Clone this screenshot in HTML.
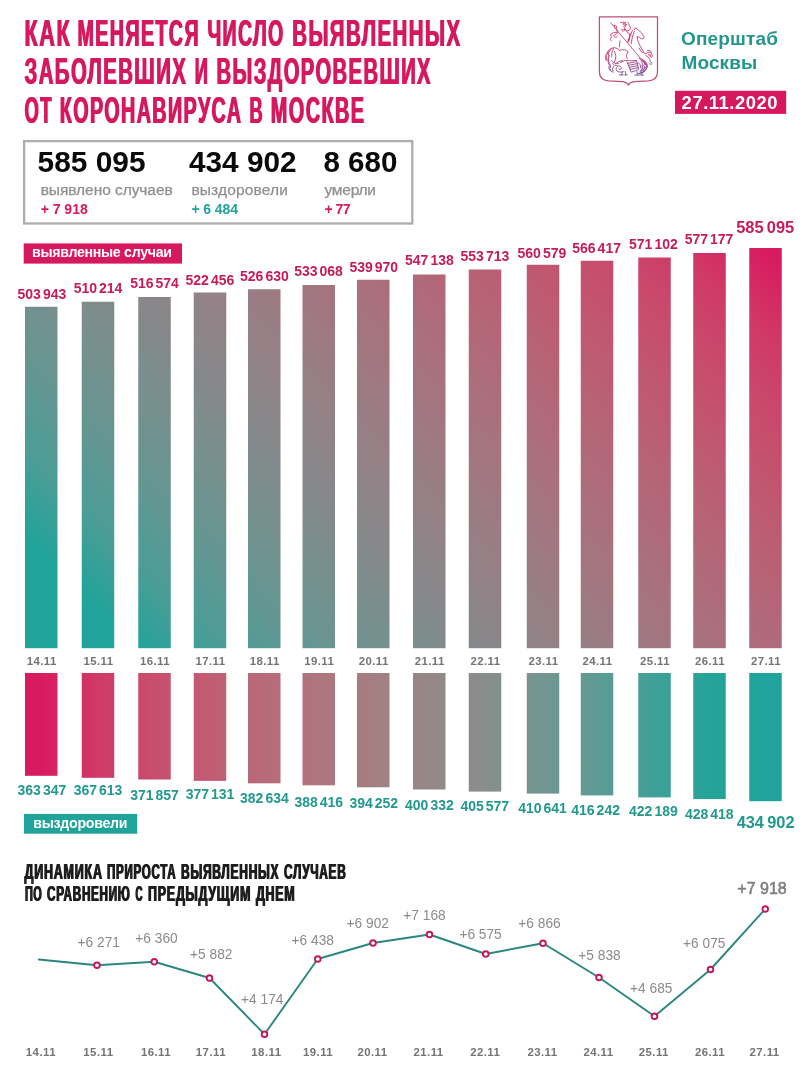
<!DOCTYPE html>
<html lang="ru"><head><meta charset="utf-8"><title>Оперштаб Москвы — 27.11.2020</title>
<style>
html,body{margin:0;padding:0;background:#fff;}
body{width:807px;height:1080px;overflow:hidden;font-family:"Liberation Sans",sans-serif;}
svg{display:block}
text{font-family:"Liberation Sans",sans-serif;}
.b{font-weight:bold}
.ttl{font-weight:bold;font-size:36.7px;fill:#D6185E;letter-spacing:2.6px}
.sub{font-weight:bold;font-size:21.8px;fill:#1d1d1d;letter-spacing:1.3px}
.tl{font-weight:bold;font-size:14px;fill:#C41C5A;text-anchor:middle}
.bl{font-weight:bold;font-size:14px;fill:#22988E;text-anchor:middle}
.dt{font-weight:bold;font-size:11.4px;fill:#747474;text-anchor:middle;letter-spacing:.45px}
.inc{font-size:14.3px;fill:#8a8a8a;text-anchor:middle}
.cap{font-size:15.5px;fill:#8e8e8e;stroke:#8e8e8e;stroke-width:.25px}
.num{font-weight:bold;font-size:30px;fill:#0a0a0a}
.d{font-weight:bold;font-size:14px}
.bdg{font-size:14.2px;font-weight:bold;fill:#fff}
</style></head><body>
<svg width="807" height="1080" viewBox="0 0 807 1080">
<defs>
<filter id="fat" x="-2%" y="-5%" width="104%" height="110%"><feMorphology operator="dilate" radius="1 0"/></filter>
<filter id="fat2" x="-2%" y="-5%" width="104%" height="110%" color-interpolation-filters="sRGB"><feOffset dx="1" dy="0" in="SourceGraphic" result="a"/><feMerge><feMergeNode in="a"/><feMergeNode in="SourceGraphic"/></feMerge></filter>
<linearGradient id="g1" gradientUnits="userSpaceOnUse" x1="88" y1="600" x2="602.5" y2="85.5"><stop offset="0.0000" stop-color="#20A39A"/><stop offset="0.0833" stop-color="#4B9D96"/><stop offset="0.1667" stop-color="#649692"/><stop offset="0.2500" stop-color="#76908E"/><stop offset="0.3333" stop-color="#86888A"/><stop offset="0.4167" stop-color="#948186"/><stop offset="0.5000" stop-color="#A07881"/><stop offset="0.5833" stop-color="#AB6F7C"/><stop offset="0.6667" stop-color="#B56577"/><stop offset="0.7500" stop-color="#BF5972"/><stop offset="0.8333" stop-color="#C84B6C"/><stop offset="0.9167" stop-color="#D03966"/><stop offset="1.0000" stop-color="#D81B60"/></linearGradient>
<linearGradient id="g2" gradientUnits="userSpaceOnUse" x1="41" y1="0" x2="765" y2="0"><stop offset="0.0000" stop-color="#D81B60"/><stop offset="0.0787" stop-color="#CF3A66"/><stop offset="0.1561" stop-color="#C84E6D"/><stop offset="0.2334" stop-color="#C15D72"/><stop offset="0.3080" stop-color="#B86A78"/><stop offset="0.3840" stop-color="#AE767E"/><stop offset="0.4586" stop-color="#A37F82"/><stop offset="0.5359" stop-color="#968787"/><stop offset="0.6133" stop-color="#878E8C"/><stop offset="0.6934" stop-color="#739692"/><stop offset="0.7680" stop-color="#5D9B94"/><stop offset="0.8467" stop-color="#3EA097"/><stop offset="0.9240" stop-color="#24A39A"/><stop offset="1.0000" stop-color="#20A39A"/></linearGradient>
<linearGradient id="gc" gradientUnits="userSpaceOnUse" x1="0" y1="20" x2="0" y2="80"><stop offset="0" stop-color="#D6336C"/><stop offset="0.6" stop-color="#C2407E"/><stop offset="1" stop-color="#5A4FA0"/></linearGradient>
</defs>
<rect width="807" height="1080" fill="#fff"/>
<g filter="url(#fat2)">
<text class="ttl" x="24.1" y="46.2" textLength="46.50" lengthAdjust="spacingAndGlyphs">КАК</text>
<text class="ttl" x="77.1" y="46.2" textLength="122.30" lengthAdjust="spacingAndGlyphs">МЕНЯЕТСЯ</text>
<text class="ttl" x="206.9" y="46.2" textLength="77.30" lengthAdjust="spacingAndGlyphs">ЧИСЛО</text>
<text class="ttl" x="291.7" y="46.2" textLength="169.30" lengthAdjust="spacingAndGlyphs">ВЫЯВЛЕННЫХ</text>
<text class="ttl" x="24.1" y="84.4" textLength="162.60" lengthAdjust="spacingAndGlyphs">ЗАБОЛЕВШИХ</text>
<text class="ttl" x="194.2" y="84.4" textLength="14.40" lengthAdjust="spacingAndGlyphs">И</text>
<text class="ttl" x="216.1" y="84.4" textLength="215.40" lengthAdjust="spacingAndGlyphs">ВЫЗДОРОВЕВШИХ</text>
<text class="ttl" x="24.1" y="122.5" textLength="28.20" lengthAdjust="spacingAndGlyphs">ОТ</text>
<text class="ttl" x="59.3" y="122.5" textLength="182.60" lengthAdjust="spacingAndGlyphs">КОРОНАВИРУСА</text>
<text class="ttl" x="248.9" y="122.5" textLength="14.40" lengthAdjust="spacingAndGlyphs">В</text>
<text class="ttl" x="270.3" y="122.5" textLength="94.60" lengthAdjust="spacingAndGlyphs">МОСКВЕ</text>
</g>
<g id="crest" fill="none" stroke="url(#gc)" stroke-width="0.9" stroke-linecap="round" stroke-linejoin="round">
<path d="M599.4 16.9H657.5V72Q657.5 80 648.5 80.8L634 81.7Q630 82.2 628.4 84.9Q626.8 82.2 622.8 81.7L608.3 80.8Q599.4 80 599.4 72Z" stroke="#BF4F74" stroke-width="1.25"/>
<path d="M610.7 22.7L645.8 64.8"/>
<path d="M614.9 25.4q2.4 .3 1.9 2.9q-1.7 1.2 -2.4 -.9z"/>
<path d="M616.6 29.5l1.2 3.6"/>
<path d="M616.8 32.2q-3.6 -.9 -6.6 2.6q2.2 1.2 .7 3q-1.5 1.700 .300 3.2"/>
<path d="M616.600 33.800q-2.100 .6 -3 2.200q1.300 1.600 3.300 1.100"/>
<path d="M620.600 22.600q3 -1.100 5.300 .2q-2.600 .2 -3.200 1.400q2.400 -.5 4.100 .600q-2.700 .2 -3.300 1.700"/>
<path d="M627.800 22.400q1.800 1 1.400 3.100q1.600 .7 1.200 2.700q-.5 2.300 -2.800 2.600q-2.600 -.2 -3.100 -2.600q-.1 -1.600 1.300 -2.400"/>
<path d="M621.100 30.100q2.500 -1.400 4.600 -.4q-2.400 .7 -3.200 2.100"/>
<path d="M626.600 31.600q2.800 1.200 3.300 3.600l-1.900 6.500"/>
<path d="M619.900 40.800l-.4 5.900"/>
<path d="M634.300 29.700l1.500 -2.100l1.700 1.900q4.400 2.500 6.700 7.400q-.3 2.400 -2.800 1.900q-1.900 -1.700 -4.400 -2.400q.3 4.600 3.100 9.600l3.400 5.600"/>
<path d="M632.600 29.900q-3.100 5.800 -4.300 12.300M634.200 31.300q-2.300 5.600 -3 12.400M630.800 33.500q-1.600 4 -2.200 8"/>
<path d="M639.400 48.300l2.200 3.800l4.500 1.500q2.600 -2.700 5 -1.100l1.600 3.700q-1.200 1.900 -2.700 .5l-1.400 -2.200"/>
<path d="M647.500 50.500q2.500 -1 3.800 1.100M649 53.300q1.900 .8 2 3"/>
<path d="M645.700 55.300q4.300 2.200 4.900 6.200l1.500 2.100q-.9 1.500 -2.300 .5"/>
<path d="M607.900 51.200q2.200 -3.700 6.300 -3.600q3.700 .2 5.400 2.900"/>
<path d="M611.300 48.500q-3.400 3.500 -3.200 8.500M613.700 48q-2.700 4 -2.100 9"/>
<path d="M608 51q-3.700 4.300 -1.900 9.500q-1.100 -5.500 2.600 -9"/>
<path d="M609.300 55.600q-2.400 5.600 1.400 9.900q-2.100 3.100 .7 6.400"/>
<path d="M607.900 58.500q-.5 4 1.500 6.500q-1.500 3 .5 5.500"/>
<path d="M619.700 50.300q5.500 -1.700 8.500 1.500q-3.100 2.900 -1.100 7.100"/>
<path d="M614.600 51.500q2.500 4.500 .400 9.500l-2.400 2.200q1.500 3.500 4.500 2.300"/>
<path d="M620.500 62.300q4.500 -3.300 9.500 -1.500l6.600 -.4"/>
<path d="M615.200 63.800q3.500 -2.800 7.300 -3.300"/>
<path d="M623.400 71.700q-6.200 1.700 -7.300 -2.500q.1 -3.800 3.900 -3.100q2.700 1.400 .700 3.300q-1.500 .6 -1.900 -.8"/>
<path d="M627.100 61.900l4.100 10.300l7.400 -2.600l-2 -8.900"/>
<path d="M627.600 63.400l8.600 -1.700M628.400 65.400l8.900 -1.800M629.200 67.400l8.700 -1.800M630 69.400l8.300 -1.800"/>
<path d="M640.800 60.400q5.300 1.500 5.800 5.600q-1.300 4.200 -6.400 5.600q3.200 -3.300 2 -6.500"/>
<path d="M638.500 62.800q2.700 1.700 2.300 5.200"/>
<path d="M622.200 72.100l-.5 2.700M619.300 74.900h3.900M624.700 74.900h2.400M625.200 71.500q1.200 1.700 .6 3.200"/>
<path d="M637.100 71.600l.2 3.300M634.900 75.100h3.800M639.800 75.100h3.600M640.300 71.600q1.800 1.400 2 3.400"/>
<path d="M639.3 58.2q8.300 2.800 8 8.300q-1.300 5.500 -8.600 7.100" stroke-width="1.1"/>
<path d="M641.400 61.800q3.300 3.800 .2 8.400M643.600 60.700q3 4.800 -.6 9.900"/>
<path d="M611.5 60.500q2.500 3.500 7 3.200M613.300 66.500q-1.800 3 -.3 5.800"/>

</g>
<text class="b" x="681" y="45.4" font-size="19" fill="#23968B" textLength="97" lengthAdjust="spacing">Оперштаб</text>
<text class="b" x="681.6" y="68.7" font-size="19" fill="#23968B" textLength="75.6" lengthAdjust="spacing">Москвы</text>
<rect x="675" y="90.8" width="111.2" height="23.1" fill="#D6185E"/>
<text class="b" x="681.6" y="108.5" font-size="18.4" fill="#fff" textLength="96" lengthAdjust="spacing">27.11.2020</text>
<rect x="24.1" y="141.1" width="388.2" height="82.4" fill="#fff" stroke="#adadad" stroke-width="2.3"/>
<text class="num" x="37.6" y="171.9" textLength="108" lengthAdjust="spacingAndGlyphs">585 095</text>
<text class="num" x="189.0" y="171.9" textLength="107.5" lengthAdjust="spacingAndGlyphs">434 902</text>
<text class="num" x="323.5" y="171.9" textLength="73.8" lengthAdjust="spacingAndGlyphs">8 680</text>
<text class="cap" x="40.7" y="194.5" textLength="132" lengthAdjust="spacing" >выявлено случаев</text>
<text class="cap" x="191.4" y="194.5" textLength="96.6" lengthAdjust="spacing" >выздоровели</text>
<text class="cap" x="324.5" y="194.5" textLength="51.5" lengthAdjust="spacing" >умерли</text>
<text class="d" x="40.7" y="214.2" textLength="47" lengthAdjust="spacing" fill="#D6185E">+ 7 918</text>
<text class="d" x="191.4" y="214.2" textLength="46.6" lengthAdjust="spacing" fill="#20A39A">+ 6 484</text>
<text class="d" x="324.5" y="214.2" textLength="26" lengthAdjust="spacing" fill="#D6185E">+ 77</text>
<rect x="23.7" y="243.4" width="158.3" height="20.2" fill="#D6185E"/>
<text class="bdg" x="32" y="257.2" textLength="140" lengthAdjust="spacing" >выявленные случаи</text>
<rect x="23.9" y="813.9" width="113.3" height="19.8" fill="#20A39A"/>
<text class="bdg" x="33.2" y="828.3" textLength="94.3" lengthAdjust="spacing" >выздоровели</text>
<rect x="25" y="306.75" width="32.5" height="341.45" fill="url(#g1)"/>
<rect x="81.75" y="301.75" width="32.5" height="346.45" fill="url(#g1)"/>
<rect x="138.25" y="297" width="32.5" height="351.20" fill="url(#g1)"/>
<rect x="193.75" y="292.5" width="32.5" height="355.70" fill="url(#g1)"/>
<rect x="248" y="289.25" width="32.5" height="358.95" fill="url(#g1)"/>
<rect x="302.5" y="285" width="32.5" height="363.20" fill="url(#g1)"/>
<rect x="357" y="279.75" width="32.5" height="368.45" fill="url(#g1)"/>
<rect x="413" y="274.5" width="32.5" height="373.70" fill="url(#g1)"/>
<rect x="468.75" y="269.5" width="32.5" height="378.70" fill="url(#g1)"/>
<rect x="526.75" y="264.75" width="32.5" height="383.45" fill="url(#g1)"/>
<rect x="580.75" y="260.75" width="32.5" height="387.45" fill="url(#g1)"/>
<rect x="638.25" y="257.5" width="32.5" height="390.70" fill="url(#g1)"/>
<rect x="693.25" y="253" width="32.5" height="395.20" fill="url(#g1)"/>
<rect x="749.25" y="248" width="32.5" height="400.20" fill="url(#g1)"/>
<rect x="25" y="673" width="32.5" height="102.80" fill="url(#g2)"/>
<rect x="81.75" y="673" width="32.5" height="104.80" fill="url(#g2)"/>
<rect x="138.25" y="673" width="32.5" height="106.50" fill="url(#g2)"/>
<rect x="193.75" y="673" width="32.5" height="107.90" fill="url(#g2)"/>
<rect x="248" y="673" width="32.5" height="110.30" fill="url(#g2)"/>
<rect x="302.5" y="673" width="32.5" height="112.30" fill="url(#g2)"/>
<rect x="357" y="673" width="32.5" height="114.30" fill="url(#g2)"/>
<rect x="413" y="673" width="32.5" height="116.50" fill="url(#g2)"/>
<rect x="468.75" y="673" width="32.5" height="118.60" fill="url(#g2)"/>
<rect x="526.75" y="673" width="32.5" height="120.60" fill="url(#g2)"/>
<rect x="580.75" y="673" width="32.5" height="122.40" fill="url(#g2)"/>
<rect x="638.25" y="673" width="32.5" height="124.40" fill="url(#g2)"/>
<rect x="693.25" y="673" width="32.5" height="126.10" fill="url(#g2)"/>
<rect x="749.25" y="673" width="32.5" height="128.20" fill="url(#g2)"/>
<text class="tl" x="41.9" y="298.75" style="word-spacing:-1.89px">503 943</text>
<text class="bl" x="41.9" y="795" style="word-spacing:-1.89px">363 347</text>
<text class="dt" x="41.75" y="665.1">14.11</text>
<text class="tl" x="98" y="292.5" style="word-spacing:-1.89px">510 214</text>
<text class="bl" x="98" y="795" style="word-spacing:-1.89px">367 613</text>
<text class="dt" x="98.50" y="665.1">15.11</text>
<text class="tl" x="154.5" y="287.5" style="word-spacing:-1.89px">516 574</text>
<text class="bl" x="154.5" y="799.5" style="word-spacing:-1.89px">371 857</text>
<text class="dt" x="155.00" y="665.1">16.11</text>
<text class="tl" x="209.9" y="285" style="word-spacing:-1.89px">522 456</text>
<text class="bl" x="210" y="799.25" style="word-spacing:-1.89px">377 131</text>
<text class="dt" x="210.50" y="665.1">17.11</text>
<text class="tl" x="264.4" y="280.5" style="word-spacing:-1.89px">526 630</text>
<text class="bl" x="264.4" y="802.5" style="word-spacing:-1.89px">382 634</text>
<text class="dt" x="264.75" y="665.1">18.11</text>
<text class="tl" x="318.5" y="276.25" style="word-spacing:-1.89px">533 068</text>
<text class="bl" x="318.75" y="807" style="word-spacing:-1.89px">388 416</text>
<text class="dt" x="319.25" y="665.1">19.11</text>
<text class="tl" x="373.75" y="271.5" style="word-spacing:-1.89px">539 970</text>
<text class="bl" x="373.75" y="808" style="word-spacing:-1.89px">394 252</text>
<text class="dt" x="373.75" y="665.1">20.11</text>
<text class="tl" x="429.4" y="265" style="word-spacing:-1.89px">547 138</text>
<text class="bl" x="429.4" y="809.5" style="word-spacing:-1.89px">400 332</text>
<text class="dt" x="429.75" y="665.1">21.11</text>
<text class="tl" x="484.9" y="260.5" style="word-spacing:-1.89px">553 713</text>
<text class="bl" x="484.75" y="810.75" style="word-spacing:-1.89px">405 577</text>
<text class="dt" x="485.50" y="665.1">22.11</text>
<text class="tl" x="541.9" y="257.75" style="word-spacing:-1.89px">560 579</text>
<text class="bl" x="542.5" y="813" style="word-spacing:-1.89px">410 641</text>
<text class="dt" x="543.50" y="665.1">23.11</text>
<text class="tl" x="596.6" y="253" style="word-spacing:-1.89px">566 417</text>
<text class="bl" x="595.6" y="814.5" style="word-spacing:-1.89px">416 242</text>
<text class="dt" x="597.50" y="665.1">24.11</text>
<text class="tl" x="653.4" y="249.25" style="word-spacing:-1.89px">571 102</text>
<text class="bl" x="653.4" y="816.25" style="word-spacing:-1.89px">422 189</text>
<text class="dt" x="655.00" y="665.1">25.11</text>
<text class="tl" x="709" y="244.25" style="word-spacing:-1.89px">577 177</text>
<text class="bl" x="709.25" y="818.75" style="word-spacing:-1.89px">428 418</text>
<text class="dt" x="710.00" y="665.1">26.11</text>
<text class="tl" x="765.2" y="232.5" style="font-size:16.4px;word-spacing:-1.36px">585 095</text>
<text class="bl" x="765.6" y="828" style="font-size:16.4px;word-spacing:-1.36px">434 902</text>
<text class="dt" x="766.00" y="665.1">27.11</text>
<g filter="url(#fat2)">
<text class="sub" x="24.0" y="879.4" textLength="78.20" lengthAdjust="spacingAndGlyphs">ДИНАМИКА</text>
<text class="sub" x="106.60000000000001" y="879.4" textLength="69.20" lengthAdjust="spacingAndGlyphs">ПРИРОСТА</text>
<text class="sub" x="180.5" y="879.4" textLength="98.30" lengthAdjust="spacingAndGlyphs">ВЫЯВЛЕННЫХ</text>
<text class="sub" x="283.59999999999997" y="879.4" textLength="62.40" lengthAdjust="spacingAndGlyphs">СЛУЧАЕВ</text>
<text class="sub" x="24.4" y="900.5" textLength="17.60" lengthAdjust="spacingAndGlyphs">ПО</text>
<text class="sub" x="46.5" y="900.5" textLength="83.60" lengthAdjust="spacingAndGlyphs">СРАВНЕНИЮ</text>
<text class="sub" x="135.0" y="900.5" textLength="7.60" lengthAdjust="spacingAndGlyphs">С</text>
<text class="sub" x="147.5" y="900.5" textLength="103.20" lengthAdjust="spacingAndGlyphs">ПРЕДЫДУЩИМ</text>
<text class="sub" x="255.39999999999998" y="900.5" textLength="39.50" lengthAdjust="spacingAndGlyphs">ДНЕМ</text>
</g>
<polyline fill="none" stroke="#2A877F" stroke-width="1.9" stroke-linejoin="round" stroke-linecap="round" points="38.75,959.5 97,965.25 154.25,961.75 209.5,978 264.5,1034.25 317.75,959 373,943 429.5,934.5 485.75,954 543,943.25 599,977.5 654.5,1016.25 710.5,969.5 765.25,909"/>
<circle cx="97" cy="965.25" r="2.8" fill="#fff" stroke="#C2185B" stroke-width="1.9"/>
<circle cx="154.25" cy="961.75" r="2.8" fill="#fff" stroke="#C2185B" stroke-width="1.9"/>
<circle cx="209.5" cy="978" r="2.8" fill="#fff" stroke="#C2185B" stroke-width="1.9"/>
<circle cx="264.5" cy="1034.25" r="2.8" fill="#fff" stroke="#C2185B" stroke-width="1.9"/>
<circle cx="317.75" cy="959" r="2.8" fill="#fff" stroke="#C2185B" stroke-width="1.9"/>
<circle cx="373" cy="943" r="2.8" fill="#fff" stroke="#C2185B" stroke-width="1.9"/>
<circle cx="429.5" cy="934.5" r="2.8" fill="#fff" stroke="#C2185B" stroke-width="1.9"/>
<circle cx="485.75" cy="954" r="2.8" fill="#fff" stroke="#C2185B" stroke-width="1.9"/>
<circle cx="543" cy="943.25" r="2.8" fill="#fff" stroke="#C2185B" stroke-width="1.9"/>
<circle cx="599" cy="977.5" r="2.8" fill="#fff" stroke="#C2185B" stroke-width="1.9"/>
<circle cx="654.5" cy="1016.25" r="2.8" fill="#fff" stroke="#C2185B" stroke-width="1.9"/>
<circle cx="710.5" cy="969.5" r="2.8" fill="#fff" stroke="#C2185B" stroke-width="1.9"/>
<circle cx="765.25" cy="909" r="2.8" fill="#fff" stroke="#C2185B" stroke-width="1.9"/>
<text class="inc" x="98.75" y="946.5" textLength="42.3" lengthAdjust="spacingAndGlyphs">+6 271</text>
<text class="inc" x="156.5" y="943" textLength="42.3" lengthAdjust="spacingAndGlyphs">+6 360</text>
<text class="inc" x="211.25" y="959" textLength="42.3" lengthAdjust="spacingAndGlyphs">+5 882</text>
<text class="inc" x="262.25" y="1004.25" textLength="42.3" lengthAdjust="spacingAndGlyphs">+4 174</text>
<text class="inc" x="312.75" y="944.5" textLength="42.3" lengthAdjust="spacingAndGlyphs">+6 438</text>
<text class="inc" x="367.75" y="928.25" textLength="42.3" lengthAdjust="spacingAndGlyphs">+6 902</text>
<text class="inc" x="424.5" y="919.5" textLength="42.3" lengthAdjust="spacingAndGlyphs">+7 168</text>
<text class="inc" x="480.6" y="939" textLength="42.3" lengthAdjust="spacingAndGlyphs">+6 575</text>
<text class="inc" x="539.5" y="928.25" textLength="42.3" lengthAdjust="spacingAndGlyphs">+6 866</text>
<text class="inc" x="599.5" y="960.25" textLength="42.3" lengthAdjust="spacingAndGlyphs">+5 838</text>
<text class="inc" x="651.25" y="992.5" textLength="42.3" lengthAdjust="spacingAndGlyphs">+4 685</text>
<text class="inc" x="704.25" y="948" textLength="42.3" lengthAdjust="spacingAndGlyphs">+6 075</text>
<text class="inc" x="762" y="893.75" textLength="49.4" lengthAdjust="spacingAndGlyphs" style="fill:#7e7e7e;stroke:#7e7e7e;stroke-width:.55px;font-size:15.8px">+7 918</text>
<text class="dt" x="40.9" y="1056.3">14.11</text>
<text class="dt" x="98.4" y="1056.3">15.11</text>
<text class="dt" x="156" y="1056.3">16.11</text>
<text class="dt" x="210.9" y="1056.3">17.11</text>
<text class="dt" x="266.4" y="1056.3">18.11</text>
<text class="dt" x="318.1" y="1056.3">19.11</text>
<text class="dt" x="372.5" y="1056.3">20.11</text>
<text class="dt" x="428.6" y="1056.3">21.11</text>
<text class="dt" x="485.25" y="1056.3">22.11</text>
<text class="dt" x="542.5" y="1056.3">23.11</text>
<text class="dt" x="598.5" y="1056.3">24.11</text>
<text class="dt" x="653.8" y="1056.3">25.11</text>
<text class="dt" x="710" y="1056.3">26.11</text>
<text class="dt" x="764.6" y="1056.3">27.11</text>
</svg></body></html>
